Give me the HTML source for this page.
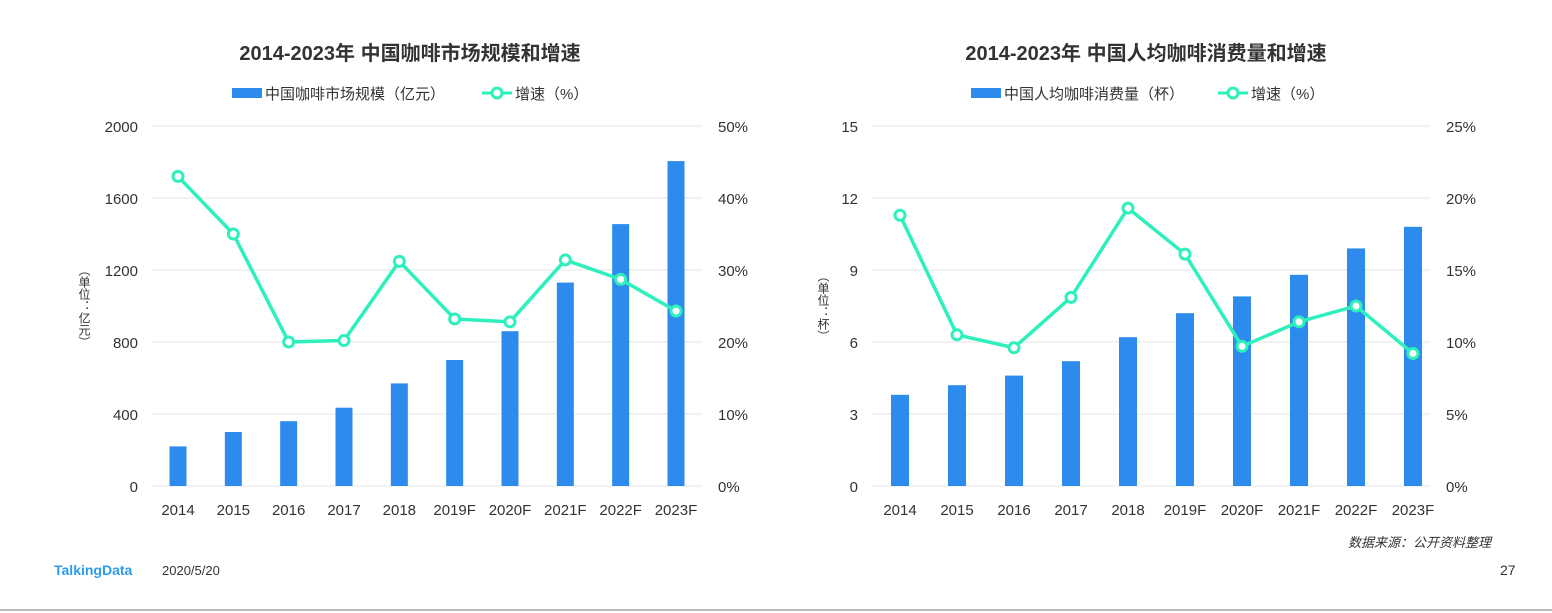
<!DOCTYPE html>
<html><head><meta charset="utf-8"><style>
body{margin:0;width:1552px;height:613px;background:#fff;overflow:hidden;font-family:"Liberation Sans","Noto Sans CJK SC",sans-serif;}
svg{position:absolute;left:0;top:0}
.unit{position:absolute;writing-mode:vertical-rl;font-size:12px;color:#333;line-height:12px;transform:translateY(-50%)}
</style></head><body>
<svg width="1552" height="613" id="svg"></svg>
<script>
const categories=["2014","2015","2016","2017","2018","2019F","2020F","2021F","2022F","2023F"];
const marketSize=[220,300,360,435,570,700,860,1130,1455,1805];
const marketGrowth=[43.0,35.0,20.0,20.2,31.2,23.2,22.8,31.4,28.7,24.3];
const leftTicks=[0,400,800,1200,1600,2000];
const leftPctTicks=[0,10,20,30,40,50];
const perCapita=[3.8,4.2,4.6,5.2,6.2,7.2,7.9,8.8,9.9,10.8];
const perCapitaGrowth=[18.8,10.5,9.6,13.1,19.3,16.1,9.7,11.4,12.5,9.2];
const rightTicks=[0,3,6,9,12,15];
const rightPctTicks=[0,5,10,15,20,25];

const NS="http://www.w3.org/2000/svg";
const svg=document.getElementById('svg');
function mk(tag,attrs,parent,text){const e=document.createElementNS(NS,tag);for(const k in attrs)e.setAttribute(k,attrs[k]);if(text!==undefined)e.textContent=text;(parent||svg).appendChild(e);return e;}

function chart(o){
  const g=mk('g',{});
  
  
  const top=126,bot=486;
  const y=v=>bot-(v/o.yMax)*(bot-top);
  const yr=v=>bot-(v/o.pMax)*(bot-top);
  const step=(o.lastX-o.firstX)/(categories.length-1);
  const x=i=>o.firstX+i*step;
  const t=mk('text',{x:o.titleX,y:60,'text-anchor':'middle','font-size':20,'font-weight':'bold',fill:'#333'},g,o.title);
  
  const lg=mk('g',{},g);
  
  mk('rect',{x:o.legX,y:88,width:30,height:10,fill:'#2d8bed'},lg);
  mk('text',{x:o.legX+33,y:99,'font-size':15,fill:'#333'},lg,o.barLabel);
  const lx=o.legX+o.legGap;
  mk('line',{x1:lx,y1:93,x2:lx+30,y2:93,stroke:'#2ef0bd','stroke-width':3},lg);
  mk('circle',{cx:lx+15,cy:93,r:5,fill:'#fff',stroke:'#2ef0bd','stroke-width':3},lg);
  mk('text',{x:lx+33,y:99,'font-size':15,fill:'#333'},lg,'增速（%）');
  o.ticks.forEach((v,i)=>{
    mk('line',{x1:o.gx1,x2:o.gx2,y1:y(v),y2:y(v),stroke:'#e6e6e6','stroke-width':1},g);
    const a=mk('text',{x:o.gx1-14,y:y(v)+6,'text-anchor':'end','font-size':15,fill:'#333'},g,String(v));
    
    const b=mk('text',{x:o.gx2+16,y:yr(o.pct[i])+6,'font-size':15,fill:'#333'},g,o.pct[i]+'%');
    
  });
  categories.forEach((c,i)=>{
    const r=mk('rect',{x:x(i)-o.bw/2,y:y(o.bars[i]),width:o.bw,height:bot-y(o.bars[i]),fill:'#2d8bed'},g);
    
    const l=mk('text',{x:x(i),y:515,'text-anchor':'middle','font-size':15,fill:'#333'},g,c);
    
  });
  const pts=o.growth.map((v,i)=>x(i)+','+yr(v)).join(' ');
  const pl=mk('polyline',{points:pts,fill:'none',stroke:'#2ef0bd','stroke-width':3.5,'stroke-linejoin':'round'},g);
  
  o.growth.forEach((v,i)=>{
    const c=mk('circle',{cx:x(i),cy:yr(v),r:5,fill:'#fff',stroke:'#2ef0bd','stroke-width':3},g);
    
  });
}
chart({name:'market-size-chart',title:'2014-2023年  中国咖啡市场规模和增速',titleX:410,legX:232,legGap:250,barLabel:'中国咖啡市场规模（亿元）',
  ticks:leftTicks,pct:leftPctTicks,yMax:2000,pMax:50,bars:marketSize,growth:marketGrowth,firstX:178,lastX:676,bw:17,gx1:152,gx2:702});
chart({name:'per-capita-chart',title:'2014-2023年  中国人均咖啡消费量和增速',titleX:1146,legX:971,legGap:247,barLabel:'中国人均咖啡消费量（杯）',
  ticks:rightTicks,pct:rightPctTicks,yMax:15,pMax:25,bars:perCapita,growth:perCapitaGrowth,firstX:900,lastX:1413,bw:18,gx1:872,gx2:1430});
</script>
<div class="unit" style="left:78px;top:306px">（单位：亿元）</div>
<div class="unit" style="left:817px;top:306px">（单位：杯）</div>
<div style="position:absolute;left:1348px;top:532px;font-size:13px;color:#333;font-style:italic">数据来源：公开资料整理</div>
<div style="position:absolute;left:54px;top:562px;font-size:14px;color:#2d9cf0;font-weight:bold">TalkingData</div>
<div style="position:absolute;left:162px;top:563px;font-size:13px;color:#333">2020/5/20</div>
<div style="position:absolute;left:1500px;top:562px;font-size:14px;color:#333">27</div>
<div style="position:absolute;left:0;top:609px;width:1552px;height:2px;background:#bbb"></div>
</body></html>
